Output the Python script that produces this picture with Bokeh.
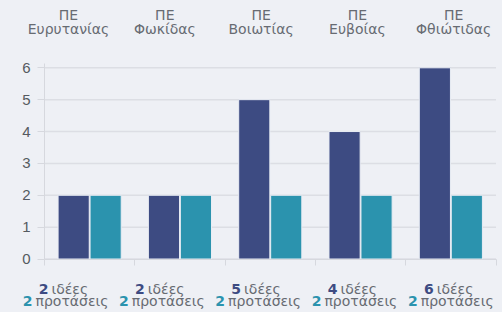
from bokeh.plotting import figure
from bokeh.models import Range1d, FixedTicker, Label, ColumnDataSource, LinearAxis
from bokeh.embed import file_html
from bokeh.resources import INLINE

regions = ["Ευρυτανίας", "Φωκίδας", "Βοιωτίας", "Ευβοίας", "Φθιώτιδας"]
prefix = "ΠΕ"
ideas = [2, 2, 5, 4, 6]
proposals = [2, 2, 2, 2, 2]
y_ticks = [0, 1, 2, 3, 4, 5, 6]

BG = "#eef0f5"
DARK = "#3d4b82"
TEAL = "#2b93ae"
GREY = "#676b72"
AX = "#d6d8de"

W, H = 502, 312
# page geometry of the plotting area
X0_PX, X1_PX = 44.0, 495.5
Y0_PX, Y6_PX = 258.5, 67.3
n = len(regions)
pxu_x = (X1_PX - X0_PX) / n
pxu_y = (Y0_PX - Y6_PX) / 6
YTOP = 6.12

p = figure(width=W, height=H, output_backend="svg", toolbar_location=None,
           x_range=Range1d(-X0_PX / pxu_x, n + (W - X1_PX) / pxu_x),
           y_range=Range1d(-(H - Y0_PX) / pxu_y, 6 + Y6_PX / pxu_y),
           x_axis_type=None, y_axis_type=None,
           min_border=0, min_border_left=0, min_border_right=0,
           min_border_top=0, min_border_bottom=0)
p.background_fill_color = BG
p.border_fill_color = BG
p.outline_line_color = None
p.grid.visible = False

# grid lines
p.segment(x0=[0] * len(y_ticks), x1=[n] * len(y_ticks), y0=y_ticks, y1=y_ticks,
          line_color="#dcdee4", line_width=1.5)

xc = [i + 0.5 for i in range(n)]
src = ColumnDataSource(dict(x1=[x - 0.177 for x in xc], x2=[x + 0.177 for x in xc],
                            ideas=ideas, proposals=proposals))
p.vbar(x="x1", top="ideas", width=0.345, source=src, fill_color=DARK,
       line_color="#e9edf4", line_width=1)
p.vbar(x="x2", top="proposals", width=0.345, source=src, fill_color=TEAL,
       line_color="#e9edf4", line_width=1)

yaxis = LinearAxis(fixed_location=0, bounds=(0, YTOP), ticker=FixedTicker(ticks=y_ticks))
yaxis.axis_line_color = AX
yaxis.major_tick_line_color = AX
yaxis.major_tick_out = 7
yaxis.major_tick_in = 0
yaxis.minor_tick_line_color = None
yaxis.major_label_text_font = "Liberation Sans"
yaxis.major_label_text_font_size = "15px"
yaxis.major_label_text_color = "#555a60"
yaxis.major_label_standoff = 7
p.add_layout(yaxis, "left")

xaxis = LinearAxis(fixed_location=0, bounds=(0, n), ticker=FixedTicker(ticks=list(range(n + 1))))
xaxis.major_label_text_font_size = "0px"
xaxis.major_label_text_alpha = 0
xaxis.axis_line_color = AX
xaxis.major_tick_line_color = AX
xaxis.major_tick_out = 6
xaxis.major_tick_in = 0
xaxis.minor_tick_line_color = None
p.add_layout(xaxis, "below")

FONT = "DejaVu Sans"
FS = "14px"
centers = [68 + i * 96.3 for i in range(n)]


def lab(x_page, y_page, text, align, color, bold=False, baseline="alphabetic"):
    p.add_layout(Label(x=x_page, y=H - y_page, x_units="screen", y_units="screen",
                       text=text, text_align=align, text_baseline=baseline,
                       text_font=FONT, text_font_size=FS,
                       text_font_style="bold" if bold else "normal", text_color=color))


for cx, name, a, b in zip(centers, regions, ideas, proposals):
    lab(cx, 14, prefix, "center", GREY)
    lab(cx, 28, name, "center", GREY)
    lab(cx - 20, 288, str(a), "right", DARK, bold=True)
    lab(cx - 17, 288, "ιδέες", "left", GREY)
    lab(cx - 36, 300, str(b), "right", TEAL, bold=True)
    lab(cx - 33, 300, "προτάσεις", "left", GREY)

html = file_html(p, INLINE)
html = html.replace("</head>", "<style>html,body{margin:0;padding:0;background:%s;overflow:hidden}</style></head>" % BG)
open("out.html", "w").write(html)
